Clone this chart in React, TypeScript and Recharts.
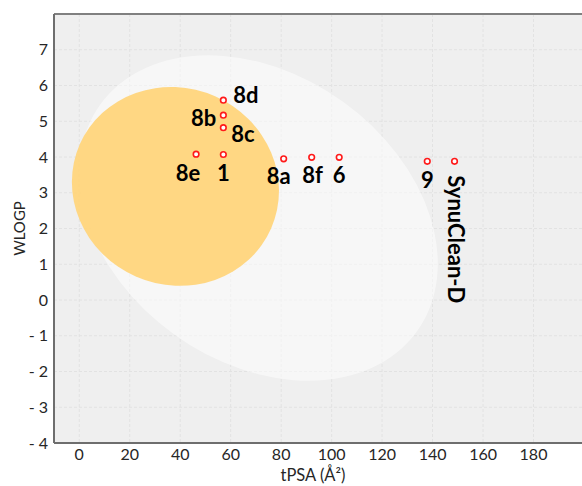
import React from 'react';
import {
  ScatterChart,
  Scatter,
  XAxis,
  YAxis,
  CartesianGrid,
  ReferenceArea,
  ReferenceLine,
} from 'recharts';

// Compounds plotted on the BOILED-Egg (tPSA vs WLOGP)
const compoundNames = ['1', '8a', '8b', '8c', '8d', '8e', '8f', '6', '9', 'SynuClean-D'];
const tpsaValues = [57.1, 81.0, 57.1, 57.1, 57.1, 46.3, 92.1, 103.0, 137.9, 148.7];
const wlogpValues = [4.07, 3.95, 5.17, 4.82, 5.59, 4.08, 3.99, 3.99, 3.88, 3.88];

const xTicks = [0, 20, 40, 60, 80, 100, 120, 140, 160, 180];
const yTicks = [-4, -3, -2, -1, 0, 1, 2, 3, 4, 5, 6, 7];

// Egg regions in data units: centre, semi-axes, rotation (degrees, data space)
const whiteRegion = { cx: 71.051, cy: 2.292, rx: 71.0405, ry: 4.37, angle: -1.031325 };
const yolkRegion = { cx: 38.117, cy: 3.177, rx: 41.0305, ry: 2.7785, angle: -0.171887 };

const points = compoundNames.map((name, i) => ({
  name,
  tpsa: tpsaValues[i],
  wlogp: wlogpValues[i],
}));

// Label placement for each compound (pixel offsets from the marker)
const labelPlacement: Record<string, { dx: number; dy: number; anchor: 'start' | 'middle' | 'end'; rotate?: boolean }> = {
  '1': { dx: 0, dy: 18, anchor: 'middle' },
  '8a': { dx: -5, dy: 17, anchor: 'middle' },
  '8b': { dx: -7, dy: 2, anchor: 'end' },
  '8c': { dx: 8, dy: 6, anchor: 'start' },
  '8d': { dx: 10, dy: -6, anchor: 'start' },
  '8e': { dx: -8, dy: 18, anchor: 'middle' },
  '8f': { dx: 1, dy: 17, anchor: 'middle' },
  '6': { dx: 0, dy: 17, anchor: 'middle' },
  '9': { dx: 0, dy: 18, anchor: 'middle' },
  'SynuClean-D': { dx: 2, dy: 14, anchor: 'start', rotate: true },
};

const FONT = 'Lato, "Open Sans", sans-serif';

type Region = { cx: number; cy: number; rx: number; ry: number; angle: number };

const ellipseShape = (region: Region, fill: string, opacity: number) => (props: any) => {
  const { x, y, width, height } = props;
  const sx = width / (2 * region.rx);
  const sy = height / (2 * region.ry);
  const px = x + width / 2;
  const py = y + height / 2;
  return (
    <ellipse
      cx={0}
      cy={0}
      rx={region.rx}
      ry={region.ry}
      fill={fill}
      fillOpacity={opacity}
      stroke="none"
      transform={`translate(${px} ${py}) scale(${sx} ${-sy}) rotate(${region.angle})`}
    />
  );
};

const CompoundMarker = (props: any) => {
  const { cx, cy, payload } = props;
  const place = labelPlacement[payload.name];
  const lx = cx + place.dx;
  const ly = cy + place.dy;
  return (
    <g>
      <circle cx={cx} cy={cy} r={2.8} fill="#ffffff" stroke="#ff1a1a" strokeWidth={1.6} />
      <text
        x={lx}
        y={ly}
        textAnchor={place.anchor}
        dominantBaseline="central"
        fontFamily={FONT}
        fontWeight={700}
        fontSize={22}
        fill="#000000"
        transform={place.rotate ? `rotate(90 ${lx} ${ly})` : undefined}
      >
        {payload.name}
      </text>
    </g>
  );
};

const formatY = (v: number) => (v < 0 ? `- ${-v}` : `${v}`);

export default function App() {
  return (
    <div
      style={{
        position: 'absolute',
        left: 0,
        top: 0,
        width: 582,
        height: 486,
        overflow: 'hidden',
        background: '#ffffff',
      }}
    >
      <ScatterChart width={592} height={486} margin={{ top: 14, right: 8, bottom: 0, left: 0 }}>
        <CartesianGrid
          fill="#efefef"
          stroke="#e2e2e2"
          strokeDasharray="3 2"
          horizontalValues={[-4, -3, -2, -1, 0, 1, 2, 3, 4, 5, 6, 7, 8]}
          verticalValues={xTicks}
        />
        <XAxis
          type="number"
          dataKey="tpsa"
          domain={[-10, 200]}
          ticks={xTicks}
          allowDataOverflow
          height={43}
          tickLine={false}
          tickSize={4}
          tickMargin={2}
          axisLine={{ stroke: '#6e6e6e', strokeWidth: 2 }}
          tick={{ fill: '#262626', fontSize: 16, fontFamily: FONT }}
          label={{
            value: 'tPSA (Å²)',
            position: 'insideBottom',
            offset: 5,
            dx: -6,
            fill: '#262626',
            fontSize: 16.5,
            fontFamily: FONT,
          }}
        />
        <YAxis
          type="number"
          dataKey="wlogp"
          domain={[-4, 8]}
          ticks={yTicks}
          allowDataOverflow
          width={54}
          tickLine={false}
          tickSize={4}
          tickMargin={2}
          tickFormatter={formatY}
          axisLine={{ stroke: '#6e6e6e', strokeWidth: 2 }}
          tick={{ fill: '#262626', fontSize: 16, fontFamily: FONT }}
          label={{
            value: 'WLOGP',
            angle: -90,
            position: 'insideLeft',
            offset: 20,
            fill: '#262626',
            fontSize: 15,
            fontFamily: FONT,
            style: { textAnchor: 'middle' },
          }}
        />
        <ReferenceArea
          x1={whiteRegion.cx - whiteRegion.rx}
          x2={whiteRegion.cx + whiteRegion.rx}
          y1={whiteRegion.cy - whiteRegion.ry}
          y2={whiteRegion.cy + whiteRegion.ry}
          ifOverflow="visible"
          shape={ellipseShape(whiteRegion, '#ffffff', 0.5)}
        />
        <ReferenceArea
          x1={yolkRegion.cx - yolkRegion.rx}
          x2={yolkRegion.cx + yolkRegion.rx}
          y1={yolkRegion.cy - yolkRegion.ry}
          y2={yolkRegion.cy + yolkRegion.ry}
          ifOverflow="visible"
          shape={ellipseShape(yolkRegion, '#ffd57c', 0.95)}
        />
        <ReferenceLine y={8} stroke="#808080" strokeWidth={2} ifOverflow="visible" />
        <Scatter data={points} isAnimationActive={false} shape={CompoundMarker} />
      </ScatterChart>
    </div>
  );
}
